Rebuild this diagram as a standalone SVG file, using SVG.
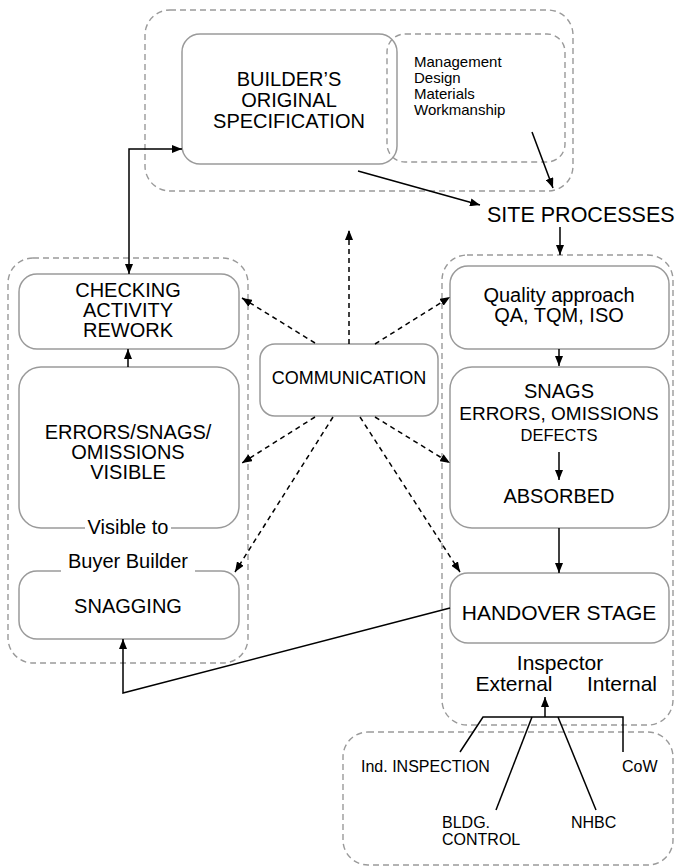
<svg xmlns="http://www.w3.org/2000/svg" width="675" height="866" viewBox="0 0 675 866">
<defs>
<marker id="ah" viewBox="0 0 10 8" refX="10" refY="4" markerWidth="10" markerHeight="8" markerUnits="userSpaceOnUse" orient="auto-start-reverse">
<path d="M0,0 L10,4 L0,8 z" fill="#000"/>
</marker>
<style>
.cont{fill:none;stroke:#9a9a9a;stroke-width:1.4;stroke-dasharray:6 4}
.box{fill:#fff;stroke:#9a9a9a;stroke-width:1.5}
.t{font-family:"Liberation Sans",Arial,sans-serif;fill:#000;text-anchor:middle}
.tl{font-family:"Liberation Sans",Arial,sans-serif;fill:#000;text-anchor:start}
.c{fill:none;stroke:#000;stroke-width:1.5}
.d{fill:none;stroke:#000;stroke-width:1.5;stroke-dasharray:5 4}
</style>
</defs>
<rect width="675" height="866" fill="#fff"/>
<g id="containers">
<rect class="cont" x="145" y="10" width="428" height="181" rx="25"/>
<rect class="cont" x="8" y="258" width="240" height="405" rx="25"/>
<rect class="cont" x="442" y="255" width="231" height="470" rx="25"/>
<rect class="cont" x="343" y="732" width="330" height="133" rx="25"/>
</g>
<g id="builder-spec">
<rect class="box" style="fill:none" x="182" y="34" width="215" height="130" rx="18"/>
<text class="t" font-size="20" x="289" y="86">BUILDER’S</text>
<text class="t" font-size="20" x="289" y="107">ORIGINAL</text>
<text class="t" font-size="20" x="289" y="128">SPECIFICATION</text>
</g>
<g id="factors">
<rect class="cont" x="387" y="34" width="178" height="128" rx="18"/>
<text class="tl" font-size="15" x="414" y="67">Management</text>
<text class="tl" font-size="15" x="414" y="83">Design</text>
<text class="tl" font-size="15" x="414" y="99">Materials</text>
<text class="tl" font-size="15" x="414" y="115">Workmanship</text>
</g>
<g id="site-processes">
<text class="tl" font-size="21.5" x="487" y="222">SITE PROCESSES</text>
</g>
<g id="checking">
<rect class="box" x="19" y="274" width="220" height="75" rx="18"/>
<text class="t" font-size="20" x="128" y="297">CHECKING</text>
<text class="t" font-size="20" x="128" y="317">ACTIVITY</text>
<text class="t" font-size="20" x="128" y="337">REWORK</text>
</g>
<g id="errors-visible">
<rect class="box" x="19" y="367" width="220" height="161" rx="22"/>
<text class="t" font-size="20" x="128" y="439">ERRORS/SNAGS/</text>
<text class="t" font-size="20" x="128" y="459">OMISSIONS</text>
<text class="t" font-size="20" x="128" y="479">VISIBLE</text>
<rect x="85" y="518" width="86" height="20" fill="#fff"/>
<text class="t" font-size="20" x="128" y="534">Visible to</text>
</g>
<g id="snagging">
<rect class="box" x="19" y="571" width="220" height="68" rx="18"/>
<rect x="61" y="560" width="134" height="14" fill="#fff"/>
<text class="t" font-size="20" x="128" y="568">Buyer Builder</text>
<text class="t" font-size="20" x="128" y="613">SNAGGING</text>
</g>
<g id="communication">
<rect class="box" x="260" y="344" width="178" height="72" rx="15"/>
<text class="t" font-size="18" x="349" y="384">COMMUNICATION</text>
</g>
<g id="quality">
<rect class="box" x="450" y="266" width="219" height="83" rx="18"/>
<text class="t" font-size="20" x="559" y="302">Quality approach</text>
<text class="t" font-size="20" x="559" y="322">QA, TQM, ISO</text>
</g>
<g id="snags">
<rect class="box" x="450" y="367" width="219" height="161" rx="22"/>
<text class="t" font-size="20" x="559" y="398">SNAGS</text>
<text class="t" font-size="19" x="559" y="420">ERRORS, OMISSIONS</text>
<text class="t" font-size="16.5" x="559" y="441">DEFECTS</text>
<text class="t" font-size="20" x="559" y="503">ABSORBED</text>
</g>
<g id="handover">
<rect class="box" x="450" y="573" width="219" height="70" rx="18"/>
<text class="t" font-size="21" x="559" y="620">HANDOVER STAGE</text>
</g>
<g id="inspector">
<text class="t" font-size="21" x="560" y="670">Inspector</text>
<text class="t" font-size="21" x="514" y="691">External</text>
<text class="t" font-size="21" x="622" y="691">Internal</text>
</g>
<g id="inspectors">
<text class="tl" font-size="16" x="361" y="772">Ind. INSPECTION</text>
<text class="tl" font-size="16" x="622" y="772">CoW</text>
<text class="tl" font-size="16" x="442" y="828">BLDG.</text>
<text class="tl" font-size="16" x="442" y="845">CONTROL</text>
<text class="tl" font-size="16" x="571" y="828">NHBC</text>
</g>
<g id="connectors">
<line class="c" x1="358" y1="171" x2="480" y2="205" marker-end="url(#ah)"/>
<line class="c" x1="532" y1="132" x2="553" y2="188" marker-end="url(#ah)"/>
<line class="c" x1="560" y1="227" x2="560" y2="255" marker-end="url(#ah)"/>
<polyline class="c" points="182,149 129,149 129,274" marker-start="url(#ah)" marker-end="url(#ah)"/>
<line class="c" x1="128" y1="367" x2="128" y2="349" marker-end="url(#ah)"/>
<line class="c" x1="559" y1="349" x2="559" y2="366" marker-end="url(#ah)"/>
<line class="c" x1="559" y1="452" x2="559" y2="480" marker-end="url(#ah)"/>
<line class="c" x1="559" y1="528" x2="559" y2="573" marker-end="url(#ah)"/>
<polyline class="c" points="450,608 123,693 123,639" marker-end="url(#ah)"/>
<line class="c" x1="545" y1="717" x2="545" y2="697" marker-end="url(#ah)"/>
<polyline class="c" points="460,752 483,717 623,717 623,752"/>
<line class="c" x1="532" y1="717" x2="496" y2="810"/>
<line class="c" x1="558" y1="717" x2="596" y2="810"/>
<line class="d" x1="349" y1="344" x2="349" y2="230" marker-end="url(#ah)"/>
<line class="d" x1="315" y1="343" x2="242" y2="298" marker-end="url(#ah)"/>
<line class="d" x1="375" y1="344" x2="450" y2="297" marker-end="url(#ah)"/>
<line class="d" x1="315" y1="417" x2="242" y2="463" marker-end="url(#ah)"/>
<line class="d" x1="333" y1="417" x2="235" y2="572" marker-end="url(#ah)"/>
<line class="d" x1="375" y1="417" x2="450" y2="463" marker-end="url(#ah)"/>
<line class="d" x1="360" y1="417" x2="460" y2="572" marker-end="url(#ah)"/>
</g>
</svg>
